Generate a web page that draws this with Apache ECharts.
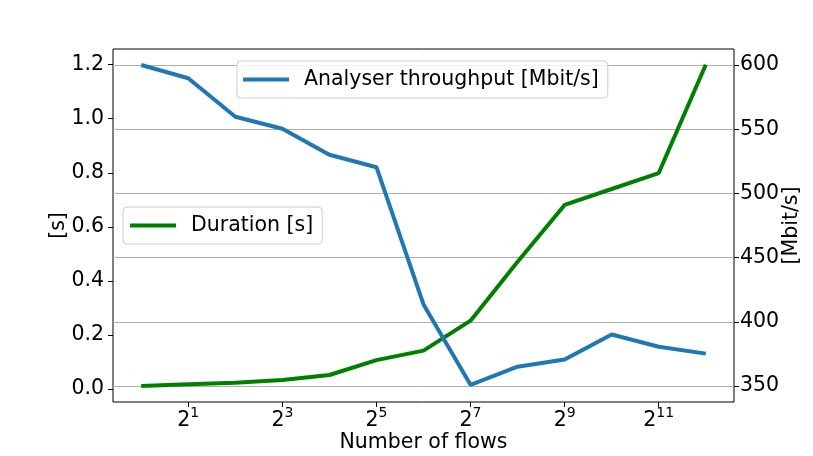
<!DOCTYPE html>
<html><head><meta charset="utf-8">
<script src="https://cdn.jsdelivr.net/npm/echarts@6/dist/echarts.min.js"></script>
<style>html,body{margin:0;padding:0;background:#fff}#c{width:813px;height:456px}</style>
</head><body><div id="c"></div>
<script>
// x values are exponents of 2 (number of flows = 2^exp)
const flowsExp = [0,1,2,3,4,5,6,7,8,9,10,11,12];
const durationS = [0.011,0.018,0.023,0.033,0.052,0.107,0.142,0.253,0.471,0.681,0.740,0.799,1.200];
const throughputMbit = [600,589.7,559.7,550.4,530.1,520.4,413.5,350.9,365,370.6,390.1,380.5,375.2];
const xTickExp = [1,3,5,7,9,11];
const leftTicks = [0,0.2,0.4,0.6,0.8,1.0,1.2];
const rightTicks = [350,400,450,500,550,600];

const F = 'DejaVu Sans';
const FS = 20.5;
const chart = echarts.init(document.getElementById('c'), null, {renderer:'canvas'});
const pair = (xs, ys) => xs.map((x,i)=>[x, ys[i]]);
const tickStyle = {show:true, inside:false, length:5, lineStyle:{color:'#000', width:1}};
const legendBase = {orient:'horizontal', icon:'rect', itemWidth:46, itemHeight:4,
  backgroundColor:'rgba(255,255,255,0.8)', borderColor:'#cccccc', borderWidth:1, borderRadius:4,
  textStyle:{fontFamily:F, fontSize:FS, color:'#000', lineHeight:20, padding:[0,0,0,10]}};
chart.setOption({
  animation:false,
  backgroundColor:'#fff',
  textStyle:{fontFamily:F},
  grid:{left:113, right:79, top:49, bottom:54, show:true, borderColor:'#000', borderWidth:1,
        backgroundColor:'transparent', containLabel:false, outerBoundsMode:'none'},
  legend:[
    Object.assign({data:['Analyser throughput [Mbit/s]'], left:237, top:61, padding:[8,9,8,6]}, legendBase),
    Object.assign({data:['Duration [s]'], left:123, top:207, padding:[8,9,8,7]}, legendBase)
  ],
  xAxis:{type:'value', min:-0.6, max:12.6,
    name:'Number of flows', nameLocation:'middle', nameGap:30, nameMoveOverlap:false,
    nameTextStyle:{fontFamily:F, fontSize:FS, color:'#000'},
    axisLine:{show:false, onZero:false}, splitLine:{show:false},
    axisTick:Object.assign({customValues:xTickExp}, tickStyle),
    axisLabel:{customValues:xTickExp, margin:4, color:'#000',
      formatter:v=>'{b|2}{s|'+v+'}',
      rich:{b:{fontFamily:F, fontSize:FS, color:'#000', padding:[4,0,0,0], verticalAlign:'bottom'},
            s:{fontFamily:F, fontSize:14, color:'#000', verticalAlign:'top'}}}
  },
  yAxis:[
    {type:'value', position:'left', min:-0.048, max:1.258,
     name:'[s]', nameLocation:'middle', nameGap:44, nameRotate:90, nameMoveOverlap:false,
     nameTextStyle:{fontFamily:F, fontSize:FS, color:'#000'},
     axisLine:{show:false, onZero:false}, splitLine:{show:false},
     axisTick:Object.assign({customValues:leftTicks}, tickStyle),
     axisLabel:{customValues:leftTicks, margin:9, fontFamily:F, fontSize:FS, color:'#000', formatter:v=>v.toFixed(1)}},
    {type:'value', position:'right', min:337.5, max:612.5,
     name:'[Mbit/s]', nameLocation:'middle', nameGap:47, nameRotate:90, nameMoveOverlap:false,
     nameTextStyle:{fontFamily:F, fontSize:FS, color:'#000'},
     axisLine:{show:false, onZero:false},
     splitLine:{show:true, lineStyle:{color:'#b0b0b0', width:1}},
     axisTick:Object.assign({customValues:rightTicks}, tickStyle),
     axisLabel:{customValues:rightTicks, margin:6, fontFamily:F, fontSize:FS, color:'#000'}}
  ],
  series:[
    {name:'Duration [s]', type:'line', yAxisIndex:0, data:pair(flowsExp, durationS),
     symbol:'none', lineStyle:{color:'#008000', width:4}, itemStyle:{color:'#008000'}, z:2},
    {name:'Analyser throughput [Mbit/s]', type:'line', yAxisIndex:1, data:pair(flowsExp, throughputMbit),
     symbol:'none', lineStyle:{color:'#1f77b4', width:4}, itemStyle:{color:'#1f77b4'}, z:3}
  ]
});
</script></body></html>
